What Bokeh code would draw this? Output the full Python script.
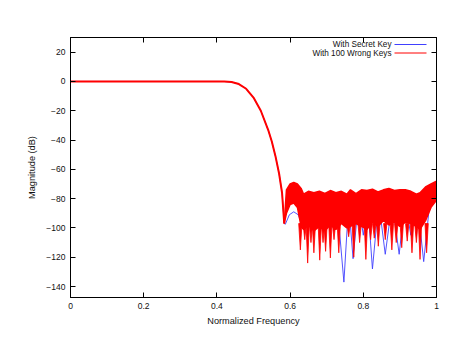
from bokeh.plotting import figure
from bokeh.models import LinearAxis, FixedTicker, Range1d, Label, Arrow
from bokeh.embed import file_html
from bokeh.resources import INLINE

# ---- data ----
pass_f = [0.0, 0.1, 0.2, 0.3, 0.4, 0.42, 0.44, 0.46, 0.48, 0.50, 0.52, 0.54,
          0.55, 0.56, 0.57, 0.578, 0.584]
pass_db = [0, 0, 0, 0, 0, -0.05, -0.4, -1.8, -5, -11, -20, -33,
           -41, -51, -63, -76, -97]

blue_f = [0.584, 0.587, 0.598, 0.61, 0.622, 0.632, 0.65, 0.665, 0.68, 0.695, 0.71,
          0.728, 0.747, 0.76, 0.772, 0.787, 0.80, 0.812, 0.825, 0.842, 0.86,
          0.879, 0.898, 0.914, 0.93, 0.948, 0.965, 0.982, 1.0]
blue_db = [-97, -97.5, -91, -89, -91, -97, -100, -84, -98, -83, -102,
           -82, -137, -83, -121, -82, -105, -83, -128, -82, -118,
           -82, -118, -82, -105, -83, -123, -82, -80]

stop_f = [0.584, 0.59, 0.60, 0.61, 0.62, 0.63, 0.637, 0.65, 0.665, 0.68, 0.695,
          0.71, 0.725, 0.74, 0.755, 0.765, 0.78, 0.795, 0.81, 0.825, 0.84, 0.855,
          0.87, 0.885, 0.90, 0.915, 0.93, 0.945, 0.955, 0.97, 0.985, 1.0]
red_hi = [-97, -74, -70, -69, -70, -73, -77, -75, -76, -75, -76.5,
          -74.5, -76, -75, -77, -74, -76.5, -74, -74.5, -73.5, -75.5, -74,
          -73, -74.5, -74, -74, -75, -77, -76, -72, -70, -68]
red_lo = [-97, -90, -84, -83, -86, -99, -101, -98, -102, -99, -102,
          -98, -101, -97, -100, -99, -97, -99, -101, -96, -99, -95,
          -98, -96, -99, -96, -97, -99, -101, -95, -86, -81]

spike_f = [0.628, 0.64, 0.648, 0.657, 0.665, 0.681, 0.69, 0.697, 0.71, 0.72, 0.733,
           0.76, 0.774, 0.79, 0.807, 0.82, 0.83, 0.841, 0.86, 0.878, 0.89, 0.905,
           0.92, 0.933, 0.945, 0.955, 0.973]
spike_db = [-115, -108, -124, -110, -117, -122, -110, -116, -120.5, -108, -117,
            -106, -120, -110, -121.5, -108, -107, -112.5, -108, -115, -110, -113.5,
            -109, -117, -110, -121.5, -117]

x_ticks = [0, 0.2, 0.4, 0.6, 0.8, 1.0]
y_ticks = [-140, -120, -100, -80, -60, -40, -20, 0, 20]

FONT = "Liberation Sans"

p = figure(width=455, height=350, output_backend="svg", toolbar_location=None,
           x_range=Range1d(0, 1), y_range=Range1d(-147.5, 30),
           min_border_left=70, min_border_right=19, min_border_top=37,
           min_border_bottom=53)
p.grid.visible = False
p.outline_line_color = "black"
p.outline_line_width = 1
p.background_fill_color = "white"
p.border_fill_color = "white"

blue = "#4040ff"
red = "#ff0000"

# blue (secret key)
p.line(pass_f, pass_db, color=blue, line_width=1)
p.line(blue_f, blue_db, color=blue, line_width=0.9)

# red (100 wrong keys): dense band of curves plus the deep nulls below it
p.line(pass_f, pass_db, color=red, line_width=2)
p.varea(x=stop_f, y1=red_lo, y2=red_hi, fill_color=red)
p.line(stop_f, red_hi, color=red, line_width=1.5)
p.line(stop_f, red_lo, color=red, line_width=1.5)
half_w = 0.0045  # visual half-width of a null's V shape
p.patches(xs=[[f - half_w, f, f + half_w] for f in spike_f],
          ys=[[-97, d, -97] for d in spike_db],
          fill_color=red, line_color=red, line_width=0.8)

def style_axis(ax, labels=True):
    ax.major_tick_in = 5
    ax.major_tick_out = 0
    ax.minor_tick_line_color = None
    ax.axis_line_color = "black"
    ax.major_tick_line_color = "black"
    ax.major_label_text_font = FONT
    ax.major_label_text_font_size = "8.5px"
    ax.major_label_text_color = "#111111"
    ax.axis_label_text_font = FONT
    ax.axis_label_text_font_size = "9.2px"
    ax.axis_label_text_font_style = "normal"
    ax.axis_label_text_color = "#111111"
    if not labels:
        ax.major_label_text_alpha = 0
        ax.major_label_text_font_size = "1px"

p.xaxis.ticker = FixedTicker(ticks=x_ticks)
p.yaxis.ticker = FixedTicker(ticks=y_ticks)
p.xaxis.axis_label = "Normalized Frequency"
p.yaxis.axis_label = "Magnitude (dB)"
style_axis(p.xaxis[0])
style_axis(p.yaxis[0])
p.xaxis.major_label_standoff = 5
p.yaxis.major_label_standoff = 5
p.xaxis.axis_label_standoff = 4
p.yaxis.axis_label_standoff = 6

ra = LinearAxis(ticker=FixedTicker(ticks=y_ticks))
style_axis(ra, labels=False)
p.add_layout(ra, "right")
ta = LinearAxis(ticker=FixedTicker(ticks=x_ticks))
style_axis(ta, labels=False)
p.add_layout(ta, "above")

# gnuplot-style key: text right-aligned, sample line to its right
legend_rows = [("With Secret Key", blue), ("With 100 Wrong Keys", red)]
for i, (txt, col) in enumerate(legend_rows):
    ys = 253 - i * 8.5
    p.add_layout(Label(x=321, y=ys, x_units="screen", y_units="screen", text=txt,
                       text_font=FONT, text_font_size="8.2px", text_align="right",
                       text_baseline="middle", text_color="#111111"))
    p.add_layout(Arrow(x_start=324, y_start=ys, x_end=356, y_end=ys,
                       start_units="screen", end_units="screen", end=None,
                       line_color=col, line_width=1))

open("out.html", "w").write(file_html(p, INLINE))
